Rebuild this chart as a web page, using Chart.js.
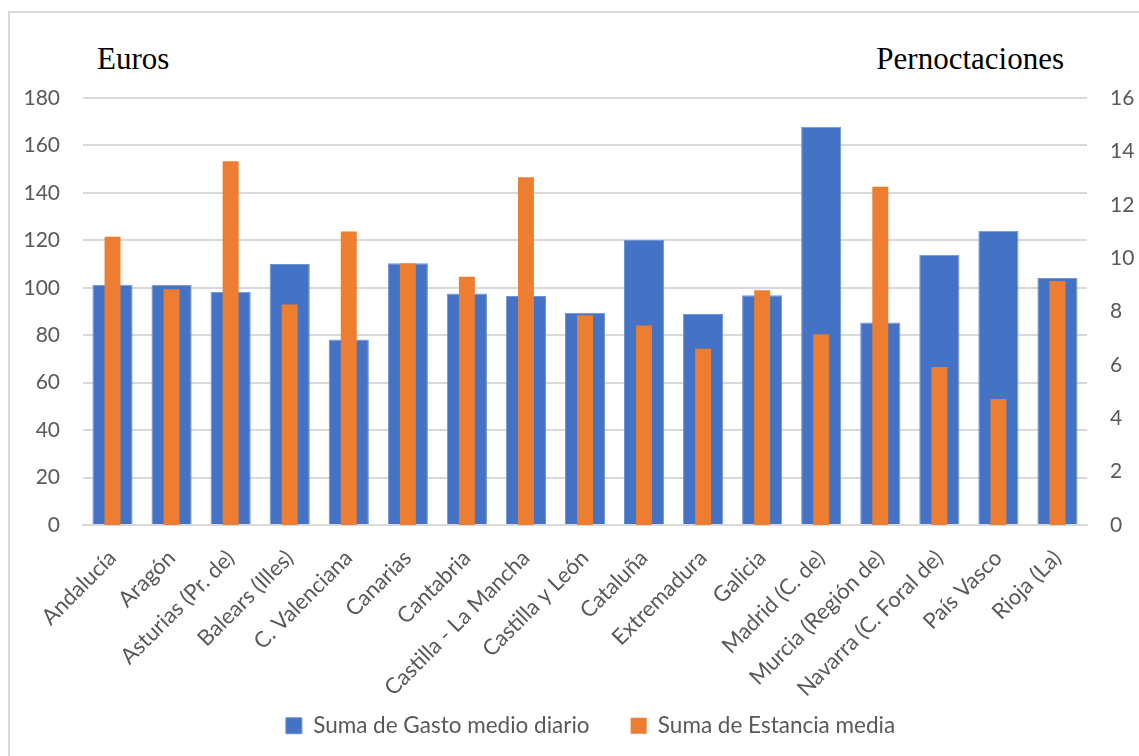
<!DOCTYPE html>
<html>
<head>
<meta charset="utf-8">
<script src="https://cdn.jsdelivr.net/npm/chart.js@4"></script>
<style>
    html, body { margin: 0; padding: 0; background: #fff; overflow: hidden; }
    #wrap { position: relative; width: 1139px; height: 756px; }
    #frame { position: absolute; left: 8px; top: 11px; width: 1200px; height: 800px; border: 2px solid #d9d9d9; box-sizing: border-box; }
    .axisTitle { position: absolute; font-family: "Liberation Serif", "Times New Roman", serif; font-size: 31px; color: #000; line-height: 1; }
    #tLeft { left: 97px; top: 43px; }
    #tRight { right: 75px; top: 43px; }
    canvas { position: absolute; left: 0; top: 0; }
</style>
</head>
<body>
<div id="wrap">
    <div id="frame"></div>
    <div class="axisTitle" id="tLeft">Euros</div>
    <div class="axisTitle" id="tRight">Pernoctaciones</div>
    <canvas id="graphCanvas" width="1139" height="756"></canvas>
</div>
<script>
// Comunidades autónomas
const comunidades = [
    'Andalucía', 'Aragón', 'Asturias (Pr. de)', 'Balears (Illes)', 'C. Valenciana',
    'Canarias', 'Cantabria', 'Castilla - La Mancha', 'Castilla y León', 'Cataluña',
    'Extremadura', 'Galicia', 'Madrid (C. de)', 'Murcia (Región de)',
    'Navarra (C. Foral de)', 'País Vasco', 'Rioja (La)'
];

// Gasto medio diario (euros, eje izquierdo)
const gastoMedio = [101.3, 101.3, 98.3, 110, 78.2, 110.3, 97.6, 96.5, 89.5, 120.1, 88.9, 96.8, 167.9, 85.4, 113.9, 124, 104.1];

// Estancia media (pernoctaciones, eje derecho)
const estanciaMedia = [10.8, 8.83, 13.63, 8.26, 11.0, 9.8, 9.3, 13.03, 7.86, 7.48, 6.6, 8.8, 7.15, 12.67, 5.92, 4.72, 9.14];

const ticksEuros = { min: 0, max: 180, step: 20 };
const ticksNoches = { min: 0, max: 16, step: 2 };

const tickColor = '#595959';
const gridColor = '#d9d9d9';
const sansFont = 'Lato, "Open Sans", sans-serif';

// la leyenda del original no está centrada: la movemos un poco a la derecha.
// Además el eje X recorta sus etiquetas a su caja, la alargamos hacia abajo.
const layoutFix = {
    id: 'layoutFix',
    afterUpdate(chart) {
        const lg = chart.legend;
        if (lg) {
            lg.left += 21;
            lg.right += 21;
        }
        const x = chart.scales.x;
        if (x) x.bottom = chart.height;
    }
};

const ctx = document.getElementById('graphCanvas').getContext('2d');

window.myChart = new Chart(ctx, {
    type: 'bar',
    data: {
        labels: comunidades,
        datasets: [
            {
                label: 'Suma de Gasto medio diario',
                data: gastoMedio,
                yAxisID: 'y',
                backgroundColor: '#4472C4',
                borderColor: '#6f93d3',
                borderWidth: 1,
                grouped: false,
                categoryPercentage: 1,
                barPercentage: 0.68,
                order: 1
            },
            {
                label: 'Suma de Estancia media',
                data: estanciaMedia,
                yAxisID: 'y1',
                backgroundColor: '#ED7D31',
                grouped: false,
                categoryPercentage: 1,
                barPercentage: 0.27,
                order: 0
            }
        ]
    },
    plugins: [layoutFix],
    options: {
        responsive: false,
        animation: false,
        layout: {
            padding: { top: 98, left: 0, right: 0, bottom: 9 }
        },
        scales: {
            x: {
                grid: { display: false },
                border: { display: true, color: gridColor, width: 2 },
                ticks: {
                    color: tickColor,
                    font: { family: sansFont, size: 22 },
                    minRotation: 45,
                    maxRotation: 45,
                    autoSkip: false,
                    padding: 12
                },
                afterFit: (scale) => { scale.height = 148.5; }
            },
            y: {
                position: 'left',
                min: ticksEuros.min,
                max: ticksEuros.max,
                grid: { color: gridColor, lineWidth: 2, drawTicks: false },
                border: { display: false },
                ticks: {
                    stepSize: ticksEuros.step,
                    color: tickColor,
                    font: { family: sansFont, size: 21 },
                    padding: 23
                },
                afterFit: (scale) => { scale.width = 83; }
            },
            y1: {
                position: 'right',
                min: ticksNoches.min,
                max: ticksNoches.max,
                grid: { display: false, drawTicks: false },
                border: { display: false },
                ticks: {
                    stepSize: ticksNoches.step,
                    color: tickColor,
                    font: { family: sansFont, size: 21 },
                    padding: 23
                },
                afterFit: (scale) => { scale.width = 52; }
            }
        },
        plugins: {
            legend: {
                position: 'bottom',
                labels: {
                    boxWidth: 16,
                    boxHeight: 16,
                    padding: 41,
                    color: tickColor,
                    font: { family: sansFont, size: 22.5 },
                    sort: (a, b) => a.datasetIndex - b.datasetIndex
                }
            },
            tooltip: { enabled: false }
        }
    }
});
</script>
</body>
</html>
